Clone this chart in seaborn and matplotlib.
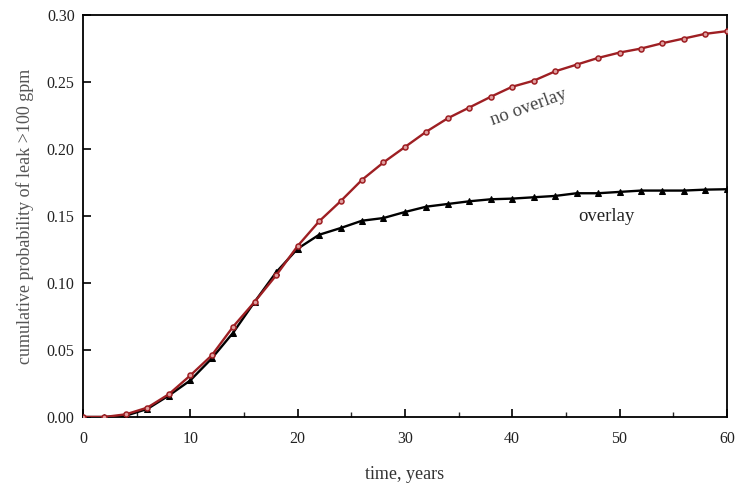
import numpy as np
import pandas as pd
import matplotlib
matplotlib.use("Agg")
import matplotlib.pyplot as plt
import seaborn as sns
from matplotlib.ticker import MultipleLocator

years = list(range(0, 62, 2))
no_overlay = [0.000, 0.000, 0.002, 0.007, 0.017, 0.031, 0.046, 0.0675, 0.086, 0.1057, 0.1276,
              0.146, 0.161, 0.177, 0.190, 0.2015, 0.213, 0.223, 0.231, 0.239, 0.2465,
              0.251, 0.258, 0.263, 0.268, 0.272, 0.275, 0.279, 0.2825, 0.286, 0.288]
overlay = [0.000, 0.000, 0.001, 0.006, 0.016, 0.0273, 0.0437, 0.063, 0.086, 0.108, 0.1256,
           0.136, 0.141, 0.1465, 0.1485, 0.153, 0.157, 0.159, 0.161, 0.1625, 0.163,
           0.164, 0.165, 0.167, 0.167, 0.168, 0.169, 0.169, 0.169, 0.1697, 0.170]

df = pd.DataFrame({
    "year": years * 2,
    "prob": no_overlay + overlay,
    "series": ["no overlay"] * len(years) + ["overlay"] * len(years),
})

sns.set_theme(style="ticks")
plt.rcParams["font.family"] = ["Liberation Serif", "DejaVu Serif"]

fig = plt.figure(figsize=(7.35, 4.86), dpi=100)
ax = fig.add_axes([0.1129, 0.142, 0.876, 0.827])

red = "#9e1f23"
sns.lineplot(data=df[df.series == "no overlay"], x="year", y="prob", ax=ax,
             color=red, lw=1.7, marker="o", markersize=3.6, markerfacecolor="#e0a0a0",
             markeredgecolor=red, markeredgewidth=1.1, zorder=3)
sns.lineplot(data=df[df.series == "overlay"], x="year", y="prob", ax=ax,
             color="black", lw=1.7, marker="^", markersize=4.2, markeredgecolor="black",
             markerfacecolor="black", zorder=2)

ax.set_xlim(0, 60)
ax.set_ylim(0, 0.30)
ax.xaxis.set_major_locator(MultipleLocator(10))
ax.xaxis.set_minor_locator(MultipleLocator(5))
ax.yaxis.set_major_locator(MultipleLocator(0.05))
ax.yaxis.set_major_formatter(matplotlib.ticker.FormatStrFormatter("%.2f"))
ax.tick_params(axis="both", which="major", direction="in", length=6, width=1.2,
               labelsize=11.5, colors="black", labelcolor="#222222", pad=6)
ax.tick_params(axis="x", which="major", pad=10)
ax.tick_params(axis="x", which="minor", direction="in", length=3.5, width=1.0)
for s in ax.spines.values():
    s.set_linewidth(1.3)
    s.set_color("black")

ax.set_xlabel("time, years", fontsize=13, color="#333333", labelpad=14)
ax.set_ylabel("cumulative probability of leak >100 gpm", fontsize=13, color="#555555", labelpad=9)

ax.text(41.5, 0.231, "no overlay", rotation=20, fontsize=13.5, color="#444444",
        ha="center", va="center")
ax.text(48.8, 0.1497, "overlay", fontsize=13.5, color="#222222", ha="center", va="center")

fig.savefig("out.png", dpi=100, facecolor="white")
